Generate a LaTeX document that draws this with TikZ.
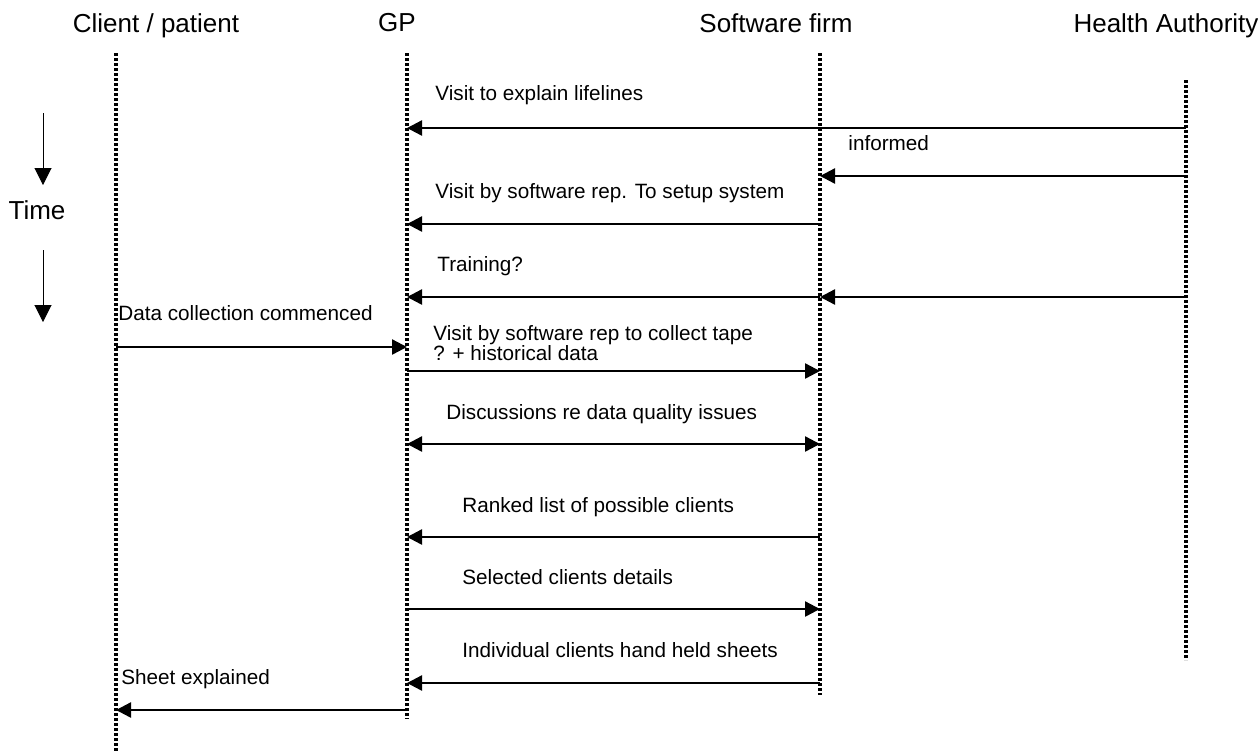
\documentclass[tikz,border=0pt]{standalone}
\usepackage{fontspec}
\setmainfont{Liberation Sans}
\usepackage{tikz}
\usetikzlibrary{arrows.meta, positioning, calc}

\begin{document}
\begin{tikzpicture}[
  x=0.5pt, y=-0.5pt,
  actor/.style={font=\fontsize{13}{15}\selectfont, inner sep=0pt, anchor=base},
  lbl/.style={font=\fontsize{10.35}{12.5}\selectfont, inner sep=0pt, anchor=base west, align=left},
  lifeline/.style={line width=1.8pt, dash pattern=on 1.6pt off 0.9pt},
  msg/.style={-{Triangle[length=7.5pt, width=7.5pt]}, line width=1.2pt},
  both/.style={{Triangle[length=7.5pt, width=7.5pt]}-{Triangle[length=7.5pt, width=7.5pt]}, line width=1.2pt},
  timearrow/.style={-{Triangle[length=8.5pt, width=8.5pt]}, line width=0.5pt}
]
\useasboundingbox (0,0) rectangle (1258,751);

% actors
\node[actor] (client) at (156,32) {Client / patient};
\node[actor] (gp) at (397,31) {GP};
\node[actor] (soft) at (776,32) {Software firm};
\node[actor] (ha) at (1166,32) {Health Authority};

% lifelines
\coordinate (cl-top) at (116,53);
\coordinate (cl-bot) at (116,751);
\coordinate (gp-top) at (407,53);
\coordinate (gp-bot) at (407,719);
\coordinate (sw-top) at (820,53);
\coordinate (sw-bot) at (820,695);
\coordinate (ha-top) at (1186,80);
\coordinate (ha-bot) at (1186,660);

\draw[lifeline] (cl-top) -- (cl-bot);
\draw[lifeline] (gp-top) -- (gp-bot);
\draw[lifeline] (sw-top) -- (sw-bot);
\draw[lifeline] (ha-top) -- (ha-bot);

% time
\coordinate (t1a) at (43,113);
\coordinate (t1b) at (43,185);
\coordinate (t2a) at (43,250);
\coordinate (t2b) at (43,322);
\draw[timearrow] (t1a) -- (t1b);
\draw[timearrow] (t2a) -- (t2b);
\node[actor] (time) at (37,219) {Time};

% message heights
\coordinate (m1) at (0,128);
\coordinate (m2) at (0,176);
\coordinate (m3) at (0,224);
\coordinate (m4) at (0,297);
\coordinate (m5) at (0,347);
\coordinate (m6) at (0,371);
\coordinate (m7) at (0,444);
\coordinate (m8) at (0,537);
\coordinate (m9) at (0,609);
\coordinate (m10) at (0,683);
\coordinate (m11) at (0,710);

% messages
\draw[msg] (ha-top |- m1) -- (gp-top |- m1);
\node[lbl] (l1) at (435,100) {Visit to explain lifelines};

\draw[msg] (ha-top |- m2) -- (sw-top |- m2);
\node[lbl] (l2) at (848,150) {informed};

\draw[msg] (sw-top |- m3) -- (gp-top |- m3);
\node[lbl] (l3) at (435,198) {Visit by software rep. To setup system};

\draw[msg] (sw-top |- m4) -- (gp-top |- m4);
\draw[msg] (ha-top |- m4) -- (sw-top |- m4);
\node[lbl] (l4) at (437,271) {Training?};

\draw[msg] (cl-top |- m5) -- (gp-top |- m5);
\node[lbl] (l5) at (118,320) {Data collection commenced};

\draw[msg] (gp-top |- m6) -- (sw-top |- m6);
\node[lbl] (l6) at (433,360) {Visit by software rep to collect tape\\[-2.5pt]? + historical data};

\draw[both] (gp-top |- m7) -- (sw-top |- m7);
\node[lbl] (l7) at (446,419) {Discussions re data quality issues};

\draw[msg] (sw-top |- m8) -- (gp-top |- m8);
\node[lbl] (l8) at (462,512) {Ranked list of possible clients};

\draw[msg] (gp-top |- m9) -- (sw-top |- m9);
\node[lbl] (l9) at (462,584) {Selected clients details};

\draw[msg] (sw-top |- m10) -- (gp-top |- m10);
\node[lbl] (l10) at (462,657) {Individual clients hand held sheets};

\draw[msg] (gp-top |- m11) -- (cl-top |- m11);
\node[lbl] (l11) at (121,684) {Sheet explained};

\end{tikzpicture}
\end{document}
